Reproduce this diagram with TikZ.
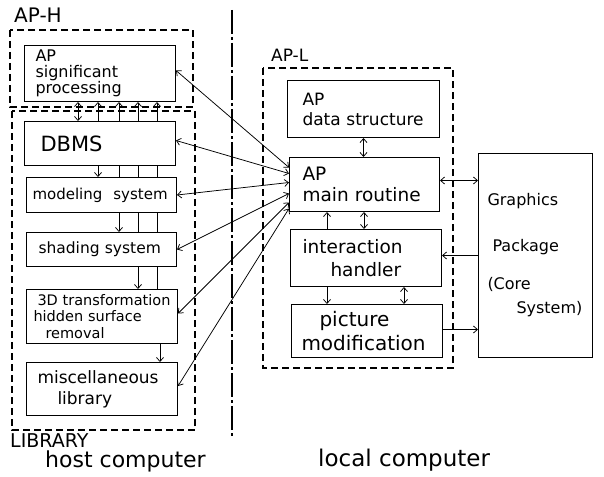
\documentclass[tikz,border=0pt]{standalone}
\usepackage{fontspec}
\setmainfont{DejaVu Sans}
\usetikzlibrary{arrows.meta}
\begin{document}
\begin{tikzpicture}[x=1pt,y=-1pt,
  box/.style={draw, line width=1pt, anchor=north west, align=left, inner ysep=0pt},
  dbox/.style={draw, line width=1.2pt, dash pattern=on 7pt off 4pt},
  conn/.style={line width=0.75pt},
  >={Straight Barb[length=4pt,width=7pt]},
  lbl/.style={anchor=west, inner sep=0pt}]
\useasboundingbox (0,0) rectangle (604,476);

% dashed groups
\draw[dbox] (10,30) rectangle (193,107);
\draw[dbox] (12,111) rectangle (195,430);
\draw[dbox] (263,68) rectangle (453,368);

% separating line
\draw[line width=1.5pt, dash pattern=on 24pt off 3pt on 3pt off 3pt] (232,10) -- (232,438);

% left column boxes
\node[box, minimum width=151pt, minimum height=56pt, text width=129pt, inner xsep=11pt,
      font=\fontsize{16pt}{16pt}\selectfont] (sig) at (24,45) {AP\\significant\\processing};
\node[box, minimum width=151pt, minimum height=44pt, text width=119pt, inner xsep=16pt,
      font=\fontsize{21pt}{24pt}\selectfont] (dbms) at (24,121) {DBMS};
\node[box, minimum width=150pt, minimum height=35pt, text width=138pt, inner xsep=6pt,
      font=\fontsize{15pt}{18pt}\selectfont] (model) at (26,177) {modeling\hspace{6pt} system};
\node[box, minimum width=150pt, minimum height=34pt, text width=140pt, inner xsep=5pt,
      font=\fontsize{15.5pt}{18pt}\selectfont] (shade) at (26,232) {\hspace*{7pt}shading system};
\node[box, minimum width=151pt, minimum height=54pt, text width=137pt, inner xsep=7pt,
      font=\fontsize{14.5pt}{16.5pt}\selectfont] (trans) at (26,289)
      {\hspace*{4pt}3D transformation\\hidden surface\\\hspace*{12pt}removal};
\node[box, minimum width=151pt, minimum height=53pt, text width=129pt, inner xsep=11pt,
      font=\fontsize{17pt}{21pt}\selectfont] (misc) at (26,362) {miscellaneous\\\hspace*{20pt}library};

% right column boxes
\node[box, minimum width=152pt, minimum height=57pt, text width=122pt, inner xsep=15pt,
      font=\fontsize{17pt}{20pt}\selectfont] (data) at (287,80) {AP\\data structure};
\node[box, minimum width=150pt, minimum height=54pt, text width=124pt, inner xsep=13pt,
      font=\fontsize{18.5pt}{21pt}\selectfont] (main) at (289,157) {AP\\main routine};
\node[box, minimum width=151pt, minimum height=57pt, text width=127pt, inner xsep=12pt,
      font=\fontsize{18.5pt}{23pt}\selectfont] (inter) at (290,229) {interaction\\\hspace*{28pt}handler};
\node[box, minimum width=151pt, minimum height=53pt, text width=131pt, inner xsep=10pt,
      font=\fontsize{20pt}{24pt}\selectfont] (pic) at (291,304) {\hspace*{18pt}picture\\modification};
\node[box, minimum width=114pt, minimum height=204pt, text width=96pt, inner xsep=9pt,
      font=\fontsize{16pt}{20pt}\selectfont] (gfx) at (478,153)
      {Graphics\\[26pt]\hspace*{5pt}Package\\[18pt](Core\\[4pt]\hspace*{29pt}System)};

% labels
\node[lbl, font=\fontsize{20pt}{20pt}\selectfont] (aph) at (14,15) {AP-H};
\node[lbl, font=\fontsize{17pt}{17pt}\selectfont] (apl) at (271,55) {AP-L};
\node[lbl, font=\fontsize{19pt}{19pt}\selectfont] (libl) at (10,441) {LIBRARY};
\node[lbl, font=\fontsize{22pt}{22pt}\selectfont] (host) at (45,461) {host computer};
\node[lbl, font=\fontsize{23pt}{23pt}\selectfont] (local) at (318,460) {local computer};

% column coordinates for left vertical connectors
\coordinate (c0) at (78,0);
\coordinate (c1) at (98,0);
\coordinate (c2) at (119,0);
\coordinate (c3) at (138,0);
\coordinate (c4) at (157,0);
\coordinate (c5) at (160,0);

\draw[conn,<->] (c0 |- dbms.north) -- (c0 |- sig.south);
\foreach \c in {c1,c2,c3,c4} \draw[conn,->] (\c |- dbms.north) -- (\c |- sig.south);
\draw[conn,->] (c1 |- dbms.south) -- (c1 |- model.north);
\foreach \c in {c2,c3,c4} \draw[conn] (\c |- dbms.south) -- (\c |- model.north);
\draw[conn,->] (c2 |- model.south) -- (c2 |- shade.north);
\foreach \c in {c3,c4} \draw[conn] (\c |- model.south) -- (\c |- shade.north);
\draw[conn,->] (c3 |- shade.south) -- (c3 |- trans.north);
\draw[conn] (c4 |- shade.south) -- (c4 |- trans.north);
\draw[conn,->] (c5 |- trans.south) -- (c5 |- misc.north);

% long connectors to main routine
\draw[conn,<->] ([yshift=3pt]sig.east) -- ([yshift=17pt]main.west);
\draw[conn,<->] ([yshift=3pt]dbms.east) -- ([yshift=11pt]main.west);
\draw[conn,<->] (model.east) -- ([yshift=2pt]main.west);
\draw[conn,<->] (shade.east) -- ([yshift=-9pt]main.west);
\draw[conn,<->] ([yshift=3pt]trans.east) -- ([yshift=-18pt]main.west);
\draw[conn,<->] ([yshift=3pt]misc.east) -- ([yshift=-24pt]main.west);

% AP-L connectors
\coordinate (k1) at (327,0);
\coordinate (k2) at (364,0);
\coordinate (k3) at (404,0);
\draw[conn,<->] (data.south) -- (data.south |- main.north);
\draw[conn,<->] ([yshift=4pt]main.east) -- ([yshift=4pt]main.east -| gfx.west);
\draw[conn,->] (k1 |- inter.north) -- (k1 |- main.south);
\draw[conn,<->] (k2 |- main.south) -- (k2 |- inter.north);
\draw[conn,->] ([yshift=2.5pt]inter.east -| gfx.west) -- ([yshift=2.5pt]inter.east);
\draw[conn,->] (k1 |- inter.south) -- (k1 |- pic.north);
\draw[conn,<->] (k3 |- inter.south) -- (k3 |- pic.north);
\draw[conn,->] ([yshift=1.5pt]pic.east) -- ([yshift=1.5pt]pic.east -| gfx.west);
\end{tikzpicture}
\end{document}
